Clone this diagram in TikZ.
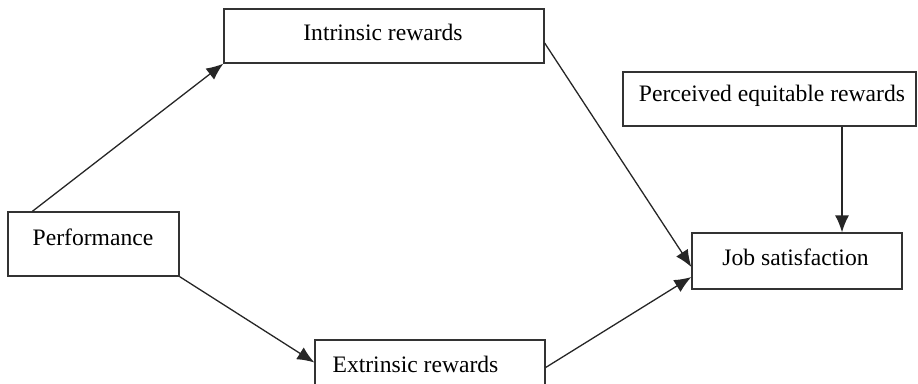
\documentclass[tikz,border=0pt]{standalone}
\usepackage{fontspec}
\setmainfont{Liberation Serif}
\usetikzlibrary{arrows.meta}
\tikzset{
	rbox/.style={draw=black!80, line width=1.3pt, fill=white, inner sep=0pt},
	rtext/.style={anchor=base, inner sep=0pt, font=\fontsize{23.6}{28}\selectfont},
	rarrow/.style={line width=1.3pt, draw=black!85, -{Latex[length=17pt,width=14pt]}},
	rline/.style={line width=1.3pt, draw=black!85}
}

\begin{document}
\begin{tikzpicture}[x=1pt, y=-1pt]
		%%%%% START %%%%%
		
		\useasboundingbox (0, 0) rectangle (918, 383);
		\clip (0, 0) rectangle (918, 383);
		
		\node[rbox, minimum width=320pt, minimum height=54pt] (intr) at (384, 36) {};
		\node[rbox, minimum width=293pt, minimum height=54pt] (perc) at (769.5, 99) {};
		\node[rbox, minimum width=210pt, minimum height=56pt] (job) at (797, 261) {};
		\node[rbox, minimum width=171pt, minimum height=64pt] (perf) at (93.5, 244) {};
		\node[rbox, minimum width=230pt, minimum height=55pt] (extr) at (430, 367.5) {};
		
		\node[rtext] (intrtxt) at (383, 40) {Intrinsic rewards};
		\node[rtext] (perctxt) at (772, 101) {Perceived equitable rewards};
		\node[rtext] (jobtxt) at (795.5, 265) {Job satisfaction};
		\node[rtext] (perftxt) at (93, 245) {Performance};
		\node[rtext] (extrtxt) at (415.5, 372) {Extrinsic rewards};
		
		\draw[rarrow] ([xshift=25pt]perf.north west) -- (intr.south west);
		\draw[rarrow] (perf.south east) -- ([yshift=5pt]extr.west);
		\draw[rarrow] ([yshift=-7pt]intr.east) -- ([yshift=-6pt]job.west);
		\draw[rarrow] (extr.east) -- ([yshift=-16pt]job.west);
		\draw[rarrow] ([xshift=72.5pt]perc.south) -- ([xshift=72.5pt]perc.south |- job.north);
		
		%%%%% END %%%%%
	\end{tikzpicture}
\end{document}
